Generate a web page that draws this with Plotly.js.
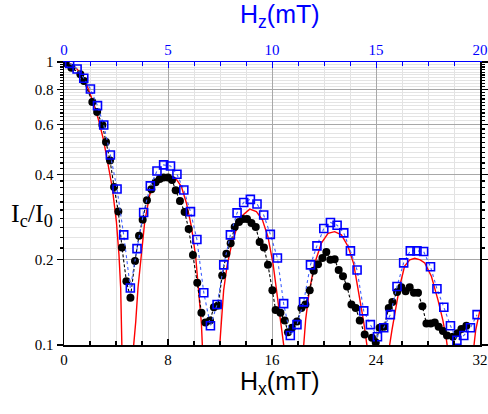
<!DOCTYPE html>
<html>
<head>
<meta charset="utf-8">
<script src="https://cdn.plot.ly/plotly-3.0.1.min.js"></script>
<style>html,body{margin:0;padding:0;background:#fff}#chart{width:488px;height:414px}</style>
</head>
<body>
<div id="chart"></div>
<script>
// Black circles: Ic/I0 vs Hx (mT)
const hxBlack = [0.13,0.57,1.26,1.54,2.18,2.55,2.95,3.23,3.54,3.85,4.18,4.46,4.80,5.11,5.46,5.77,6.05,6.38,6.72,7.05,7.36,7.67,8.00,8.31,8.59,8.92,9.28,9.59,9.92,10.25,10.57,10.88,11.23,11.53,11.85,12.17,12.49,12.82,13.13,13.46,13.77,14.08,14.42,14.75,15.05,15.38,15.69,16.03,16.28,16.65,16.98,17.23,17.54,17.92,18.26,18.57,18.90,19.21,19.54,19.88,20.18,20.49,20.82,21.13,21.46,21.77,22.11,22.44,22.75,23.13,23.69,23.98,24.28,24.62,24.98,25.26,25.62,25.95,26.28,26.59,26.92,27.23,27.57,27.88,28.21,28.52,28.82,29.15,29.46,29.92,30.26,30.57,30.95];
const icBlack = [0.992,0.955,0.905,0.857,0.722,0.666,0.599,0.522,0.449,0.362,0.296,0.221,0.168,0.147,0.198,0.243,0.277,0.325,0.355,0.376,0.386,0.391,0.391,0.383,0.352,0.323,0.295,0.257,0.208,0.166,0.130,0.120,0.122,0.136,0.138,0.176,0.210,0.229,0.261,0.272,0.279,0.279,0.270,0.261,0.231,0.221,0.192,0.156,0.133,0.130,0.122,0.111,0.115,0.121,0.135,0.139,0.156,0.183,0.193,0.203,0.213,0.200,0.201,0.184,0.175,0.161,0.139,0.135,0.122,0.109,0.106,0.102,0.115,0.116,0.135,0.142,0.154,0.160,0.155,0.160,0.153,0.153,0.137,0.119,0.119,0.120,0.116,0.112,0.108,0.107,0.110,0.114,0.117];

// Blue open squares: Ic/I0 vs Hz (mT), top axis
const hzBlue = [0.27,0.63,0.95,1.27,1.61,1.91,2.23,2.55,2.87,3.19,3.51,3.83,4.15,4.47,4.79,5.12,5.43,5.76,6.08,6.39,6.72,7.04,7.36,7.68,8.00,8.32,8.64,8.96,9.28,9.60,9.92,10.26,10.56,10.88,11.20,11.52,11.85,12.16,12.49,12.81,13.13,13.45,13.77,14.09,14.41,14.73,15.07,15.37,15.69,16.01,16.33,16.65,16.97,17.29,17.62,17.93,18.26,18.58,18.89,19.22,19.54,19.86];
const icBlue = [0.989,0.945,0.876,0.803,0.701,0.599,0.469,0.356,0.245,0.159,0.219,0.294,0.365,0.412,0.433,0.429,0.401,0.353,0.296,0.236,0.153,0.117,0.139,0.192,0.245,0.293,0.319,0.327,0.315,0.288,0.246,0.203,0.140,0.108,0.118,0.142,0.192,0.224,0.258,0.271,0.265,0.249,0.215,0.184,0.132,0.118,0.107,0.115,0.128,0.161,0.195,0.215,0.215,0.214,0.189,0.158,0.136,0.117,0.104,0.108,0.115,0.128];

// Red solid curve: Ic/I0 vs Hx (mT)
const hxRed = [0,0.5,1.0,1.5,1.85,2.3,2.69,3.0,3.26,3.5,3.72,4.03,4.23,4.36,4.44,4.48,4.9,
  5.36,5.52,5.69,5.95,6.21,6.6,7.0,7.4,8.0,8.59,9.03,9.42,9.80,10.13,10.38,10.57,10.64,11.3,
  11.98,12.11,12.28,12.54,12.88,13.3,13.77,14.29,14.8,15.26,15.69,16.08,16.46,16.72,16.9,17.7,
  18.44,18.59,18.85,19.28,19.8,20.31,20.82,21.34,21.85,22.28,22.75,23.05,23.26,23.3,24.2,
  25.05,25.23,25.49,25.82,26.2,26.6,26.98,27.4,27.75,28.26,28.77,29.15,29.42,29.47,30.5,
  31.54,31.67,32];
const icRed = [1.0,0.985,0.945,0.875,0.807,0.71,0.616,0.54,0.469,0.41,0.358,0.273,0.208,0.159,0.121,0.1,0.01,
  0.1,0.121,0.159,0.208,0.273,0.34,0.372,0.39,0.398,0.388,0.363,0.317,0.262,0.205,0.156,0.119,0.1,0.01,
  0.1,0.126,0.156,0.19,0.225,0.26,0.288,0.302,0.296,0.277,0.241,0.194,0.144,0.116,0.1,0.01,
  0.1,0.123,0.153,0.194,0.229,0.248,0.2515,0.245,0.223,0.194,0.146,0.121,0.103,0.1,0.01,
  0.1,0.113,0.133,0.161,0.19,0.2,0.2025,0.2,0.195,0.175,0.144,0.122,0.104,0.1,0.01,
  0.1,0.113,0.133];

const xTicks = [0,8,16,24,32];
const zTicks = [0,5,10,15,20];
const yTicks = [0.1,0.2,0.4,0.6,0.8,1];
const yTickText = ['0.1','0.2','0.4','0.6','0.8','1'];

const yMinor = [];
for (let i = 11; i <= 49; i++) { const v = i / 50; if (![0.2,0.4,0.6,0.8].some(t => Math.abs(t - v) < 1e-9)) yMinor.push(v); }

const serif = "'Liberation Serif', 'Times New Roman', serif";
const sans = "'Liberation Sans', Arial, sans-serif";

const traces = [
  {x: hxRed, y: icRed, mode: 'lines', line: {color: '#ff0000', width: 1.4}, xaxis: 'x', yaxis: 'y', hoverinfo: 'skip'},
  {x: hxBlack, y: icBlack, mode: 'lines+markers', line: {color: '#000000', width: 1.1, dash: '3px,2px'},
   marker: {symbol: 'circle', size: 8, color: '#000000'}, xaxis: 'x', yaxis: 'y'},
  {x: hzBlue, y: icBlue, mode: 'lines+markers', line: {color: '#4060ff', width: 1.1, dash: 'dot'},
   marker: {symbol: 'square-open', size: 8, color: '#0000ff', line: {width: 1.6}}, xaxis: 'x2', yaxis: 'y'}
];

const layout = {
  width: 488, height: 414,
  margin: {l: 64, r: 8, t: 62, b: 69},
  paper_bgcolor: '#ffffff', plot_bgcolor: '#ffffff',
  showlegend: false,
  font: {family: serif},
  xaxis: {
    range: [0, 32], tickmode: 'array', tickvals: xTicks, ticktext: xTicks.map(String),
    ticks: 'inside', ticklen: 6, tickwidth: 1.2, tickcolor: '#000',
    showline: true, linecolor: '#000', linewidth: 1.5, mirror: false,
    showgrid: true, gridcolor: '#a8a8a8', gridwidth: 1,
    minor: {dtick: 2, ticks: 'inside', ticklen: 4, tickcolor: '#000', showgrid: true, gridcolor: '#e2e2e2', gridwidth: 1},
    tickfont: {family: serif, size: 15, color: '#000'}, zeroline: false
  },
  xaxis2: {
    overlaying: 'x', side: 'top', anchor: 'y', range: [0, 20],
    tickmode: 'array', tickvals: zTicks, ticktext: zTicks.map(String),
    ticks: 'inside', ticklen: 6, tickcolor: '#0000ff',
    minor: {dtick: 1.25, ticks: 'inside', ticklen: 4, tickcolor: '#0000ff', showgrid: false},
    showline: true, linecolor: '#0000ff', linewidth: 1.5,
    showgrid: false, zeroline: false,
    tickfont: {family: serif, size: 15, color: '#0000ff'}
  },
  yaxis: {
    type: 'log', range: [-1, 0], tickmode: 'array', tickvals: yTicks, ticktext: yTickText,
    ticks: 'outside', ticklen: 6, tickwidth: 1.2, tickcolor: '#000',
    showline: true, linecolor: '#000', linewidth: 1.5, mirror: 'ticks',
    showgrid: true, gridcolor: '#a8a8a8', gridwidth: 1,
    minor: {tickmode: 'array', tickvals: yMinor, ticks: 'outside', ticklen: 3, tickcolor: '#000', showgrid: true, gridcolor: '#e4e4e4', gridwidth: 1},
    tickfont: {family: serif, size: 15, color: '#000'}, zeroline: false
  },
  annotations: [
    {text: 'H<sub>z</sub>(mT)', xref: 'paper', yref: 'paper', x: 0.52, y: 1.10, xanchor: 'center', yanchor: 'bottom',
     showarrow: false, font: {family: sans, size: 25, color: '#0000ff'}},
    {text: 'H<sub>x</sub>(mT)', xref: 'paper', yref: 'paper', x: 0.52, y: -0.072, xanchor: 'center', yanchor: 'top',
     showarrow: false, font: {family: sans, size: 25, color: '#000'}},
    {text: 'I<sub>c</sub>/I<sub>0</sub>', xref: 'paper', yref: 'paper', x: -0.077, y: 0.46, xanchor: 'center', yanchor: 'middle',
     showarrow: false, font: {family: serif, size: 26, color: '#000'}}
  ]
};

Plotly.newPlot('chart', traces, layout, {displayModeBar: false, staticPlot: true});
</script>
</body>
</html>
